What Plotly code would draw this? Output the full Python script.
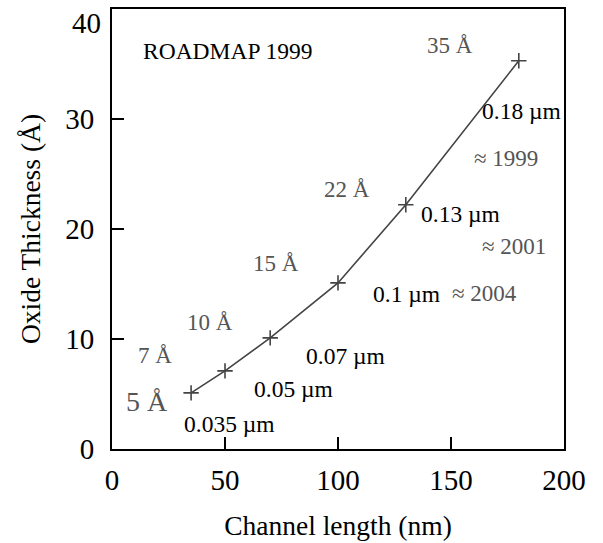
import plotly.graph_objects as go

# Data
channel_nm = [35, 50, 70, 100, 130, 180]
oxide_A = [5.1, 7.1, 10.1, 15.1, 22.2, 35.3]
x_ticks = [0, 50, 100, 150, 200]
y_ticks = [0, 10, 20, 30, 40]
y_tick_text = ["0", "10", "20", "30", ""]
y_top_tick = [40]

# Annotations: (text, x, y, color, size)
ann_text = ["ROADMAP 1999", "35 Å", "0.18 µm", "≈ 1999", "22 Å", "0.13 µm", "≈ 2001",
            "15 Å", "0.1 µm", "≈ 2004", "10 Å", "7 Å", "0.07 µm", "0.05 µm", "5 Å", "0.035 µm"]
ann_x = [51.3, 149.6, 181.4, 174.3, 104.0, 154.0, 177.9, 72.6, 130.1, 165.0, 43.4, 19.0, 103.5, 80.5, 15.5, 52.2]
ann_y = [36.2, 36.7, 30.7, 26.4, 23.6, 21.4, 18.4, 16.9, 14.1, 14.1, 11.5, 8.5, 8.45, 5.45, 4.3, 2.25]
GRAY = "#555555"
BLACK = "#000000"
ann_color = [BLACK, GRAY, BLACK, GRAY, GRAY, BLACK, GRAY, GRAY, BLACK, GRAY, GRAY, GRAY, BLACK, BLACK, GRAY, BLACK]
ann_size = [23.5, 23, 23.5, 23, 23, 23.5, 23, 23, 23.5, 23, 23, 23, 23.5, 23.5, 28, 23.5]

FONT = "Liberation Serif, Times New Roman, serif"

fig = go.Figure()
fig.add_trace(go.Scatter(
    x=channel_nm, y=oxide_A, mode="lines+markers",
    line=dict(color="#444444", width=1.6),
    marker=dict(symbol="cross-thin", size=11, line=dict(color="#444444", width=1.6)),
    showlegend=False, hoverinfo="skip"))
# empty trace so the overlay axis (y2, top label) is drawn
fig.add_trace(go.Scatter(x=[], y=[], yaxis="y2", showlegend=False, hoverinfo="skip"))

for t, x, y, c, s in zip(ann_text, ann_x, ann_y, ann_color, ann_size):
    fig.add_annotation(x=x, y=y, text=t, showarrow=False,
                       font=dict(family=FONT, size=s, color=c),
                       xanchor="center", yanchor="middle")

tickfont = dict(family=FONT, size=29, color="black")
titlefont = dict(family=FONT, size=27.5, color="black")

fig.update_layout(
    xaxis=dict(range=[0, 200], tickvals=x_ticks, showline=True, linecolor="black", linewidth=1.8,
               mirror=True, ticks="inside", ticklen=12, tickwidth=1.5, tickcolor="black",
               showgrid=False, zeroline=False, tickfont=tickfont, ticklabelstandoff=4,
               ticklabeloverflow="allow", automargin=False,
               title=dict(text="Channel length (nm)", font=titlefont, standoff=21)),
    yaxis=dict(range=[0, 40], tickvals=y_ticks, ticktext=y_tick_text, showline=True,
               linecolor="black", linewidth=1.8,
               mirror=True, ticks="inside", ticklen=12, tickwidth=1.5, tickcolor="black",
               showgrid=False, zeroline=False, tickfont=tickfont, ticklabelstandoff=10,
               ticklabeloverflow="allow", automargin=False,
               title=dict(text="Oxide Thickness (Å)", font=titlefont, standoff=17)),
    yaxis2=dict(overlaying="y", side="left", range=[0, 40], tickvals=y_top_tick,
                showline=False, ticks="", showgrid=False, zeroline=False,
                tickfont=tickfont, ticklabelstandoff=10, ticklabeloverflow="allow",
                ticklabelshift=14, automargin=False),
    width=603, height=543, margin=dict(l=112, r=39, t=9, b=94),
    plot_bgcolor="white", paper_bgcolor="white")

fig.write_html("out.html")
